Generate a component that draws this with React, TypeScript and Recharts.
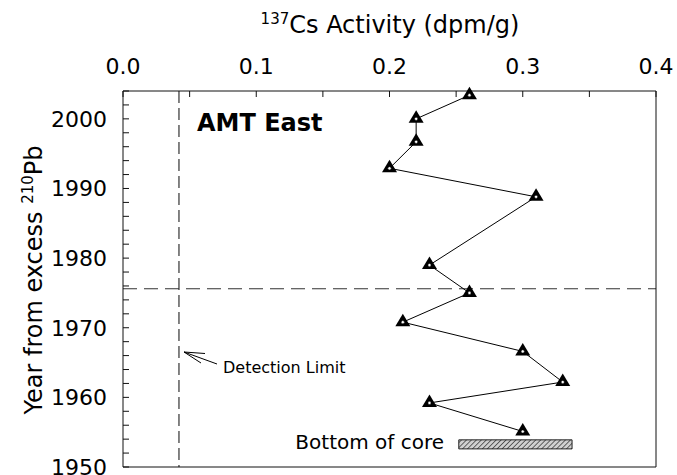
import React from "react";
import {
  ScatterChart,
  Scatter,
  XAxis,
  YAxis,
  ReferenceLine,
  ReferenceArea,
} from "recharts";

// 137Cs activity down the core, with the 210Pb-derived year of each slice.
const csActivity = [0.26, 0.22, 0.22, 0.2, 0.31, 0.23, 0.26, 0.21, 0.3, 0.33, 0.23, 0.3];
const years = [2003.4, 2000.0, 1996.7, 1992.9, 1988.8, 1979.0, 1975.0, 1970.8, 1966.6, 1962.2, 1959.2, 1955.1];

const xTicks = [0, 0.05, 0.1, 0.15, 0.2, 0.25, 0.3, 0.35, 0.4];
const yTicks = [
  1950, 1952, 1954, 1956, 1958, 1960, 1962, 1964, 1966, 1968, 1970, 1972, 1974,
  1976, 1978, 1980, 1982, 1984, 1986, 1988, 1990, 1992, 1994, 1996, 1998, 2000,
  2002, 2004,
];

const detectionLimit = 0.042;
const peakYear = 1975.6;
const coreBottom = { x1: 0.252, x2: 0.337, y1: 1952.6, y2: 1953.9 };

const points = csActivity.map((cs, i) => ({ cs, year: years[i] }));

const FONT = "DejaVu Sans";
const INK = "#111";

const tickFont = { fontSize: 22, fill: "#000", fontFamily: FONT };

const isMajorX = (v: number) => Math.abs(v * 10 - Math.round(v * 10)) < 1e-6;

function Triangle(props: any) {
  const { cx, cy } = props;
  if (cx == null || cy == null) return null;
  return (
    <g>
      <path d={`M${cx},${cy - 8.5} L${cx + 7.5},${cy + 4} L${cx - 7.5},${cy + 4} Z`} fill="#000" />
      <circle cx={cx} cy={cy} r={1.6} fill="#fff" stroke="#000" strokeWidth={0.5} />
    </g>
  );
}

export default function App() {
  return (
    <div style={{ position: "absolute", left: 0, top: 0, width: 677, height: 475, background: "#fff" }}>
      <svg width={0} height={0} style={{ position: "absolute" }}>
        <defs>
          <pattern id="hatch" width="3.5" height="3.5" patternUnits="userSpaceOnUse" patternTransform="rotate(45)">
            <rect width="3.5" height="3.5" fill="#d0d0d0" />
            <line x1="0" y1="0" x2="0" y2="3.5" stroke="#444" strokeWidth="1.6" />
          </pattern>
        </defs>
      </svg>
      <ScatterChart
        width={677}
        height={475}
        margin={{ top: 61, right: 11, bottom: 0, left: 63 }}
        style={{ fontFamily: FONT }}
      >
        <XAxis
          type="number"
          dataKey="cs"
          orientation="top"
          domain={[0, 0.4]}
          ticks={xTicks}
          interval={0}
          tickFormatter={(v: number) => (isMajorX(v) ? v.toFixed(1) : "")}
          tickSize={-6}
          tickMargin={23}
          height={30}
          stroke={INK}
          tick={tickFont}
        />
        <XAxis
          xAxisId="bottom"
          type="number"
          orientation="bottom"
          domain={[0, 0.4]}
          ticks={xTicks}
          interval={0}
          tickFormatter={() => ""}
          tickSize={-6}
          height={8}
          stroke={INK}
        />
        <YAxis
          type="number"
          dataKey="year"
          domain={[1950, 2004]}
          ticks={yTicks}
          interval={0}
          tickFormatter={(v: number) => (v % 10 === 0 ? String(v) : "")}
          tickSize={-6}
          tickMargin={22}
          width={60}
          stroke={INK}
          tick={tickFont}
        />
        <YAxis
          yAxisId="right"
          type="number"
          orientation="right"
          domain={[1950, 2004]}
          ticks={yTicks}
          interval={0}
          tickFormatter={() => ""}
          tickSize={-6}
          width={10}
          stroke={INK}
        />
        <ReferenceLine x={detectionLimit} stroke="#333" strokeWidth={1.2} strokeDasharray="12 5" />
        <ReferenceLine y={peakYear} stroke="#333" strokeWidth={1.2} strokeDasharray="14 7" />
        <ReferenceArea
          x1={coreBottom.x1}
          x2={coreBottom.x2}
          y1={coreBottom.y1}
          y2={coreBottom.y2}
          fill="url(#hatch)"
          fillOpacity={1}
          stroke="#222"
          strokeWidth={1}
        />
        <Scatter
          data={points}
          line={{ stroke: "#000", strokeWidth: 1 }}
          lineType="joint"
          shape={Triangle}
          isAnimationActive={false}
        />
      </ScatterChart>
      <svg
        width={677}
        height={475}
        style={{ position: "absolute", left: 0, top: 0, pointerEvents: "none", fontFamily: FONT }}
      >
        <text x={390} y={33} textAnchor="middle" fontSize={24} fill="#000">
          <tspan fontSize={15} dy={-9}>137</tspan>
          <tspan dy={9}>Cs Activity (dpm/g)</tspan>
        </text>
        <text transform="translate(42,280) rotate(-90)" textAnchor="middle" fontSize={24} fill="#000">
          <tspan>Year from excess </tspan>
          <tspan fontSize={15} dy={-9}>210</tspan>
          <tspan dy={9}>Pb</tspan>
        </text>
        <text x={197} y={131} fontSize={24} fontWeight="bold" fill="#000">AMT East</text>
        <text x={223} y={373} fontSize={16} fill="#000">Detection Limit</text>
        <g stroke="#000" strokeWidth={1} fill="none">
          <line x1={217} y1={364} x2={184} y2={352} />
          <line x1={184} y1={352} x2={205} y2={353.5} />
          <line x1={184} y1={352} x2={201} y2={363} />
        </g>
        <text x={444} y={449} textAnchor="end" fontSize={20} fill="#000">Bottom of core</text>
      </svg>
    </div>
  );
}
